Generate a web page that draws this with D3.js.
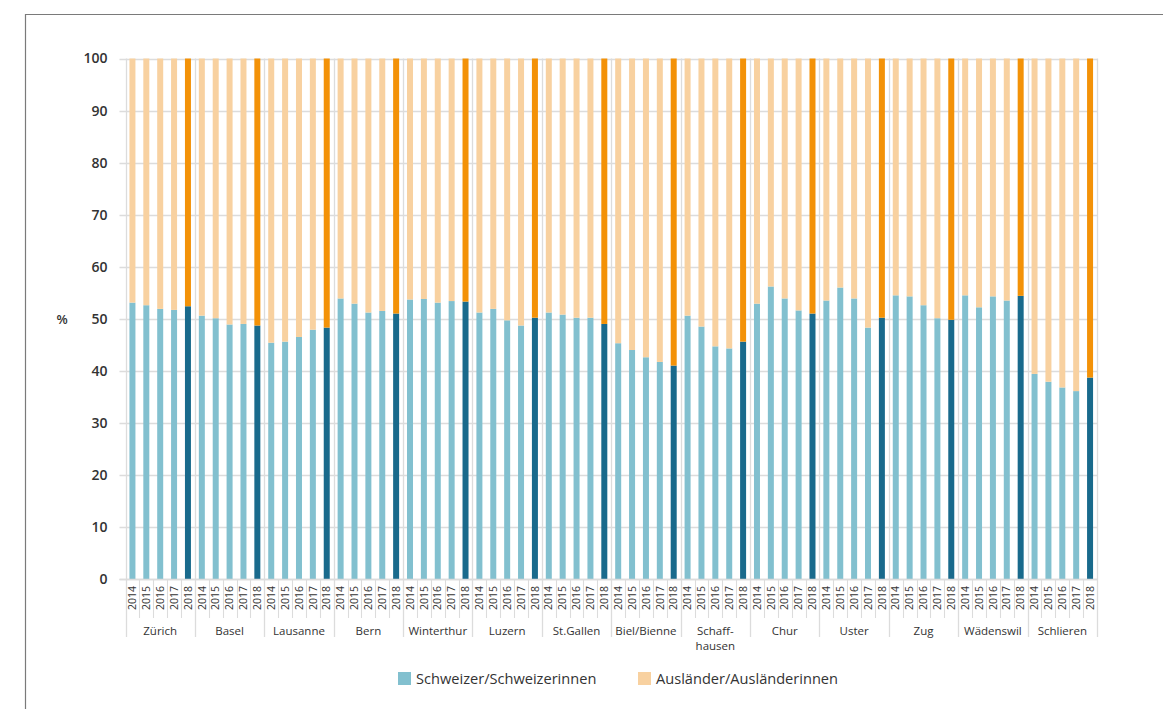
<!DOCTYPE html>
<html>
<head>
<meta charset="utf-8">
<script src="https://cdn.jsdelivr.net/npm/d3@7"></script>
<style>
  html, body { margin: 0; padding: 0; background: #fff; }
  svg { display: block; font-family: "Open Sans", "Noto Sans", sans-serif; }
</style>
</head>
<body>
<svg id="chart" width="1163" height="709"></svg>
<script>
const cities = ["Zürich", "Basel", "Lausanne", "Bern", "Winterthur", "Luzern", "St.Gallen",
  "Biel/Bienne", "Schaffhausen", "Chur", "Uster", "Zug", "Wädenswil", "Schlieren"];
const cityLabels = [["Zürich"], ["Basel"], ["Lausanne"], ["Bern"], ["Winterthur"], ["Luzern"], ["St.Gallen"],
  ["Biel/Bienne"], ["Schaff-", "hausen"], ["Chur"], ["Uster"], ["Zug"], ["Wädenswil"], ["Schlieren"]];
const years = ["2014", "2015", "2016", "2017", "2018"];
// Share of Swiss citizens (%) per city, years 2014..2018
const swissShare = [
  [53.1, 52.6, 51.9, 51.7, 52.4], // Zürich
  [50.6, 50.1, 48.9, 49.0, 48.7], // Basel
  [45.4, 45.6, 46.5, 47.9, 48.3], // Lausanne
  [53.9, 52.9, 51.2, 51.5, 51.0], // Bern
  [53.7, 53.8, 53.1, 53.4, 53.3], // Winterthur
  [51.2, 51.9, 49.7, 48.7, 50.2], // Luzern
  [51.2, 50.8, 50.2, 50.2, 49.0], // St.Gallen
  [45.3, 44.0, 42.6, 41.7, 41.0], // Biel/Bienne
  [50.6, 48.5, 44.7, 44.3, 45.6], // Schaffhausen
  [52.9, 56.2, 53.9, 51.6, 51.0], // Chur
  [53.5, 56.0, 53.9, 48.3, 50.2], // Uster
  [54.5, 54.3, 52.6, 50.1, 49.8], // Zug
  [54.5, 52.2, 54.3, 53.5, 54.4], // Wädenswil
  [39.4, 37.9, 36.8, 36.1, 38.7]  // Schlieren
];
const yTicks = [0, 10, 20, 30, 40, 50, 60, 70, 80, 90, 100];
const seriesNames = ["Schweizer/Schweizerinnen", "Ausländer/Ausländerinnen"];

const colors = {
  swissLight: "#82c0cf", swissDark: "#196a8c",
  forLight: "#f8d1a0", forDark: "#f39208",
  grid: "#dcdcdc", text: "#333333"
};

const svg = d3.select("#chart");

// frame
svg.append("path")
  .attr("d", "M25.5,709 L25.5,14.5 L1163,14.5")
  .attr("fill", "none").attr("stroke", "#7a7a7a").attr("stroke-width", 1.2);

const x0 = 125.5, x1 = 1097, yTop = 58.5, yBot = 579;

const slots = [];
cities.forEach((c, ci) => years.forEach((yr, yi) => {
  slots.push({ city: c, ci, year: yr, yi, swiss: swissShare[ci][yi] });
}));

const x = d3.scaleBand().domain(slots.map(d => d.city + "|" + d.year)).range([x0, x1]).paddingInner(0).paddingOuter(0);
const y = d3.scaleLinear().domain([0, 100]).range([yBot, yTop]);
const bw = x.bandwidth();
const barW = 6;

// horizontal grid lines
svg.append("g").attr("transform", `translate(${x0 - 6},0)`)
  .selectAll("line").data(yTicks).join("line")
  .attr("x1", 0).attr("x2", x1 - x0 + 6)
  .attr("y1", d => Math.round(y(d)) + 0.5).attr("y2", d => Math.round(y(d)) + 0.5)
  .attr("stroke", colors.grid).attr("stroke-width", 1.3);
// y axis labels
const ya = svg.append("g").attr("transform", `translate(${x0 - 6},0)`)
  .call(d3.axisLeft(y).tickValues(yTicks).tickSize(0).tickPadding(12).tickFormat(d3.format("d")));
ya.select(".domain").remove();
ya.selectAll("text").attr("font-size", 14).attr("font-weight", 600).attr("fill", colors.text)
  .attr("font-family", "'Open Sans', sans-serif");

// % label
svg.append("text").attr("x", 62).attr("y", y(50) + 5).attr("font-size", 13).attr("font-weight", 600)
  .attr("fill", colors.text).attr("text-anchor", "middle").text("%");

// vertical lines at city boundaries (full height) and year separators below axis
const cityEdges = d3.range(cities.length + 1).map(i => i === cities.length ? x1 : x(cities[i] + "|" + years[0]));
svg.append("g").selectAll("line").data(cityEdges).join("line")
  .attr("x1", d => Math.round(d) + 0.5).attr("x2", d => Math.round(d) + 0.5)
  .attr("y1", yTop).attr("y2", 637)
  .attr("stroke", colors.grid).attr("stroke-width", 1.3);
svg.append("g").selectAll("line").data(slots.filter(d => d.yi > 0)).join("line")
  .attr("x1", d => Math.round(x(d.city + "|" + d.year)) + 0.5)
  .attr("x2", d => Math.round(x(d.city + "|" + d.year)) + 0.5)
  .attr("y1", yBot).attr("y2", 618)
  .attr("stroke", colors.grid).attr("stroke-width", 1.1);

// bars
const bars = svg.append("g");
bars.selectAll("rect.sw").data(slots).join("rect").attr("class", "sw")
  .attr("x", d => x(d.city + "|" + d.year) + bw / 2 - barW / 2)
  .attr("width", barW)
  .attr("y", d => y(d.swiss))
  .attr("height", d => y(0) - y(d.swiss))
  .attr("fill", d => d.yi === 4 ? colors.swissDark : colors.swissLight);
bars.selectAll("rect.fo").data(slots).join("rect").attr("class", "fo")
  .attr("x", d => x(d.city + "|" + d.year) + bw / 2 - barW / 2)
  .attr("width", barW)
  .attr("y", y(100))
  .attr("height", d => y(d.swiss) - y(100))
  .attr("fill", d => d.yi === 4 ? colors.forDark : colors.forLight);

// baseline
svg.append("line").attr("x1", x0 - 6).attr("x2", x1).attr("y1", Math.round(yBot) + 0.5).attr("y2", Math.round(yBot) + 0.5)
  .attr("stroke", colors.grid).attr("stroke-width", 1.3);

// year labels (rotated)
svg.append("g").selectAll("text").data(slots).join("text")
  .attr("transform", d => `translate(${x(d.city + "|" + d.year) + bw / 2 + 3.7},${598}) rotate(-90)`)
  .attr("text-anchor", "middle").attr("font-size", 10.5).attr("fill", colors.text)
  .text(d => d.year);

// city labels
const cg = svg.append("g").selectAll("text").data(cities).join("text")
  .attr("x", (c, i) => (cityEdges[i] + cityEdges[i + 1]) / 2)
  .attr("y", 635)
  .attr("text-anchor", "middle").attr("font-size", 11.5).attr("fill", colors.text);
cg.each(function(c, i) {
  const t = d3.select(this);
  cityLabels[i].forEach((line, li) => {
    t.append("tspan").attr("x", (cityEdges[i] + cityEdges[i + 1]) / 2).attr("dy", li === 0 ? 0 : 15).text(line);
  });
});

// legend
const legend = [
  { name: seriesNames[0], color: colors.swissLight, x: 398 },
  { name: seriesNames[1], color: colors.forLight, x: 638 }
];
const lg = svg.append("g").selectAll("g").data(legend).join("g")
  .attr("transform", d => `translate(${d.x},672)`);
lg.append("rect").attr("width", 13).attr("height", 13).attr("fill", d => d.color);
lg.append("text").attr("x", 18).attr("y", 11.5).attr("font-size", 14.6).attr("fill", colors.text).text(d => d.name);
</script>
</body>
</html>
